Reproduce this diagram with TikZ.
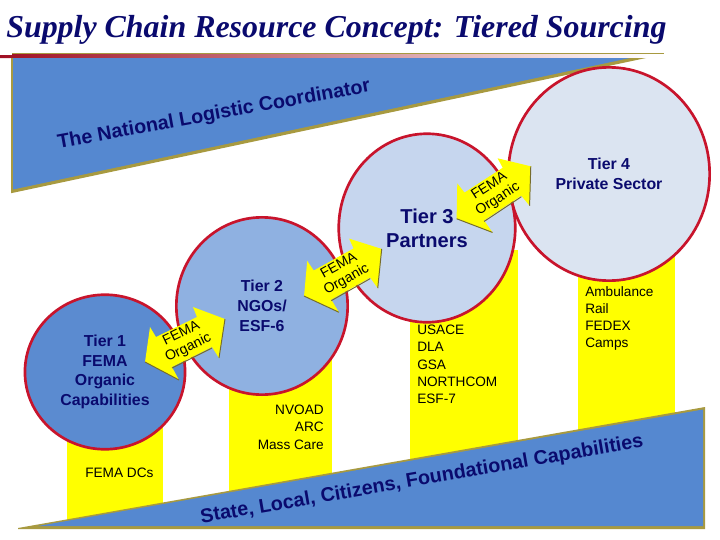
\documentclass[tikz,border=0pt]{standalone}
\usepackage{fontspec}
\setmainfont{Liberation Sans}
\newfontfamily\titlefont{Liberation Serif}
\usetikzlibrary{shapes.geometric}
\definecolor{navy}{HTML}{0A0A6E}
\definecolor{wedgeblue}{HTML}{5588D0}
\definecolor{wedgeedge}{HTML}{A89A40}
\definecolor{ringred}{HTML}{C8142C}
\definecolor{baryellow}{RGB}{255,255,0}
\definecolor{tierone}{HTML}{5B8BD0}
\definecolor{tiertwo}{HTML}{8FB1E1}
\definecolor{tierthree}{HTML}{C6D6EE}
\definecolor{tierfour}{HTML}{DBE4F1}
\begin{document}
\begin{tikzpicture}[x=0.25mm, y=-0.25mm,
  every node/.style = {align=center, inner sep=0pt},
  tier/.style = {shape=ellipse, draw=ringred, line width=1.9pt, text=navy, font=\bfseries\fontsize{11.3}{14}\selectfont},
  barlabel/.style = {align=left, anchor=north west, font=\fontsize{9.7}{12.2}\selectfont},
  wedgetext/.style = {text=navy, font=\bfseries\fontsize{14}{16}\selectfont}]
  \useasboundingbox (0,0) rectangle (720,540);

  \fill[baryellow] (67,400) rectangle (163,525);
  \fill[baryellow] (229,330) rectangle (332,495);
  \fill[baryellow] (410,250) rectangle (518,465);
  \fill[baryellow] (578,250) rectangle (675,435);

  \shade[left color=ringred!80!black, right color=white] (0,55) -- (12,55) -- (12,53) -- (650,53) -- (650,58) -- (0,58) -- cycle;
  \draw[wedgeedge, line width=0.5pt] (12,53) -- (664,53);
  \fill[wedgeedge] (11,58) -- (646,58) -- (12,193) -- (11,193) -- cycle;
  \fill[wedgeblue] (13,58) -- (630,58) -- (13,189.5) -- cycle;
  \node[wedgetext, rotate=10.3] (coordinator) at (214,115) {The National Logistic Coordinator};

  \node[tier, fill=tierfour, minimum width=51mm-1.9pt, minimum height=54mm-1.9pt] (tierfour) at (609,174) {Tier 4\\Private Sector};
  \node[tier, fill=tierthree, minimum width=44.8mm-1.9pt, minimum height=47.8mm-1.9pt, font=\bfseries\fontsize{14.3}{17}\selectfont] (tierthree) at (427,228) {Tier 3\\Partners};
  \node[tier, fill=tiertwo, minimum width=43.5mm-1.9pt, minimum height=45mm-1.9pt] (tiertwo) at (262,306) {Tier 2\\NGOs/\\ESF-6};
  \node[tier, fill=tierone, minimum width=40.7mm-1.9pt, minimum height=39.3mm-1.9pt] (tierone) at (105,372) {Tier 1\\FEMA\\Organic\\Capabilities};

  \foreach \cx/\cy/\ang/\nm in {185/343/0/one, 343/275/3/two, 494/195/7/three} {
    \begin{scope}[shift={(\cx,\cy)}, rotate=\ang]
      \fill[baryellow] (40,-24) -- (8,-36) -- (12,-26) -- (-29,-6) -- (-35,-16) -- (-40,19) -- (-6,37) -- (-13,24) -- (27,4) -- (34,15) -- cycle;
      \draw[wedgeedge!70!black, line width=0.7pt] (-40,19) -- (-6,37) (-13,25) -- (27,5) (40,-24) -- (34,15);
      \node[rotate=\ang+26, font=\fontsize{10}{11.2}\selectfont] (fema\nm) at (0,-2) {FEMA\\Organic};
    \end{scope}
  }

  \node[barlabel, anchor=base west] (dcs) at (85,477) {FEMA DCs};
  \node[barlabel, align=right, anchor=north east] (nvoad) at (324,405) {NVOAD\\ARC\\Mass Care};
  \node[barlabel] (usace) at (417,325) {USACE\\DLA\\GSA\\NORTHCOM\\ESF-7};
  \node[barlabel] (ambulance) at (585,286) {Ambulance\\Rail\\FEDEX\\Camps};

  \fill[wedgeedge] (18,528) -- (705,407) -- (705,529) -- (18,529) -- cycle;
  \fill[wedgeblue] (38,526) -- (703,409.5) -- (703,526) -- cycle;
  \node[wedgetext, rotate=9.8, font=\bfseries\fontsize{14.05}{17}\selectfont] (foundation) at (422,480) {State, Local, Citizens, Foundational Capabilities};

  \node[anchor=base west, text=navy, font=\titlefont\bfseries\itshape\fontsize{22.7}{26}\selectfont] (heading) at (6,37) {Supply Chain Resource Concept: Tiered Sourcing};
\end{tikzpicture}
\end{document}
